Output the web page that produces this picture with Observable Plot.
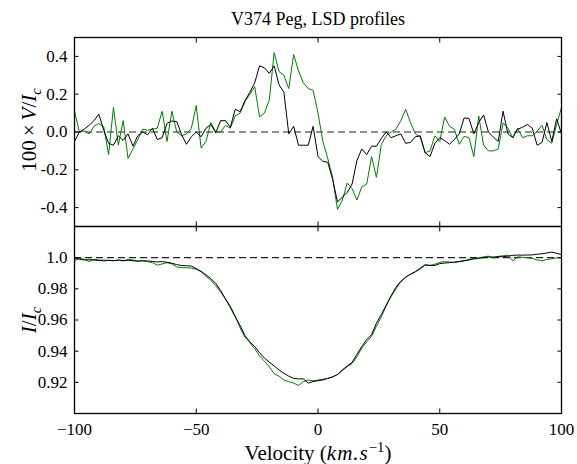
<!DOCTYPE html>
<html><head><meta charset="utf-8">
<script src="https://cdn.jsdelivr.net/npm/d3@7"></script>
<script src="https://cdn.jsdelivr.net/npm/@observablehq/plot@0.6"></script>
<style>
body{margin:0;background:#fff;}
#wrap{position:relative;width:577px;height:464px;font-family:"Liberation Serif",serif;color:#000;overflow:hidden;}
#wrap svg text{font-family:"Liberation Serif",serif !important;font-size:17px;}
.abs{position:absolute;white-space:nowrap;}
.lab{font-size:21px;line-height:22px;}
.op{padding:0 4px;}
.m{letter-spacing:1px;}
sub,sup{font-size:70%;line-height:0;}
#p1,#p2{position:absolute;left:0;}
#p1{top:0;} #p2{top:224px;}
</style></head><body>
<div id="wrap">
  <div id="p1"></div>
  <div id="p2"></div>
  <div class="abs" style="left:118px;width:400px;top:9px;text-align:center;font-size:18px;line-height:20px;">V374 Peg, LSD profiles</div>
  <div class="abs lab" style="left:29px;top:130px;transform:translate(-50%,-50%) rotate(-90deg);">100<span class="op">×</span><i>V</i>/<i>I</i><sub><i>c</i></sub></div>
  <div class="abs lab" style="left:29px;top:320px;transform:translate(-50%,-50%) rotate(-90deg);"><i>I</i>/<i>I</i><sub><i>c</i></sub></div>
  <div class="abs lab" style="left:118px;width:400px;top:442px;text-align:center;">Velocity (<i class="m">km.s</i><sup>−1</sup>)</div>
</div>
<script>
const vel = [
 -100,-98,-96,-94,-92,-90,-88,-86,-84,-82,
 -80,-78,-76,-74,-72,-70,-68,-66,-64,-62,
 -60,-58,-56,-54,-52,-50,-48,-46,-44,-42,
 -40,-38,-36,-34,-32,-30,-28,-26,-24,-22,
 -20,-18,-16,-14,-12,-10,-8,-6,-4,-2,
 0,2,4,6,8,10,12,14,16,18,
 20,22,24,26,28,30,32,34,36,38,
 40,42,44,46,48,50,52,54,56,58,
 60,62,64,66,68,70,72,74,76,78,
 80,82,84,86,88,90,92,94,96,98,
 100];
const vBlack = [
 -0.05,0.0,0.015,0.035,0.06,0.094,0.01,-0.06,-0.07,-0.02,
 -0.045,-0.01,-0.075,-0.02,0.0,-0.015,0.02,-0.04,-0.03,0.046,
 0.058,0.055,-0.015,-0.065,-0.025,0.0,-0.025,0.02,0.04,-0.005,
 0.06,0.06,0.025,0.12,0.108,0.165,0.21,0.26,0.35,0.34,
 0.31,0.35,0.25,0.21,-0.01,0.03,-0.07,-0.07,-0.07,0.03,
 -0.13,-0.155,-0.16,-0.25,-0.37,-0.345,-0.32,-0.275,-0.15,-0.09,
 -0.12,-0.075,-0.075,-0.034,0.0,-0.03,-0.02,-0.01,-0.06,-0.055,
 -0.025,-0.02,-0.11,-0.13,-0.06,-0.03,-0.045,-0.065,-0.04,-0.01,
 0.074,0.072,-0.01,0.05,0.09,0.0,-0.027,-0.05,0.11,-0.01,
 -0.03,0.015,0.025,0.04,0.02,-0.07,-0.055,0.05,-0.05,0.07,
 -0.01];
const vGreen = [
 0.11,0.0,0.005,-0.01,0.03,0.045,0.028,-0.12,0.13,-0.07,
 0.06,-0.14,-0.09,-0.04,0.015,0.01,0.015,0.02,0.11,-0.05,
 0.11,0.0,-0.02,-0.01,0.02,0.14,-0.085,-0.05,0.05,0.0,
 0.0,0.035,0.02,0.085,0.1,0.16,0.2,0.24,0.08,0.1,
 0.17,0.42,0.32,0.3,0.23,0.41,0.323,0.26,0.23,0.22,
 0.1,-0.05,-0.14,-0.24,-0.41,-0.36,-0.27,-0.3,-0.36,-0.29,
 -0.276,-0.13,-0.24,-0.066,-0.02,0.0,0.015,0.06,0.12,0.05,
 -0.01,-0.028,-0.11,-0.1,-0.02,-0.05,0.08,0.03,0.015,-0.065,
 -0.023,-0.03,-0.13,0.085,-0.07,-0.1,-0.1,-0.09,0.048,0.02,
 -0.03,0.02,-0.03,-0.02,-0.02,0.005,0.035,-0.04,-0.06,0.04,
 0.13];
const iBlack = [
 0.9996,0.999,0.9985,0.9987,0.9985,0.9982,0.9984,0.9983,0.9981,0.9984,
 0.9982,0.9983,0.998,0.9978,0.998,0.9979,0.9976,0.9972,0.9975,0.997,
 0.9965,0.9955,0.995,0.9948,0.9946,0.993,0.9912,0.989,0.9865,0.9835,
 0.979,0.9735,0.968,0.962,0.9565,0.95,0.946,0.943,0.939,0.9355,
 0.933,0.9305,0.928,0.9258,0.924,0.9225,0.9222,0.9222,0.9195,0.9205,
 0.921,0.9215,0.9225,0.9235,0.925,0.928,0.9305,0.9328,0.938,0.943,
 0.9475,0.9505,0.958,0.9635,0.9695,0.9755,0.981,0.9848,0.9875,0.9893,
 0.991,0.9928,0.9953,0.995,0.995,0.9962,0.9965,0.9968,0.9972,0.9976,
 0.998,0.9985,0.9992,0.9996,1.0,1.0004,1.0004,1.0006,1.0006,1.001,
 1.0015,1.0017,1.0016,1.0017,1.0018,1.0022,1.0025,1.003,1.0036,1.0028,
 1.002];
const iGreen = [
 0.998,0.9995,0.999,0.9975,0.999,0.9985,0.9978,0.9983,0.998,0.9985,
 0.9978,0.999,0.9985,0.9978,0.998,0.9975,0.9968,0.9952,0.996,0.9968,
 0.996,0.994,0.9936,0.9935,0.9933,0.9925,0.991,0.988,0.9855,0.982,
 0.978,0.9735,0.969,0.9625,0.955,0.949,0.9455,0.9415,0.937,0.9335,
 0.93,0.9255,0.924,0.9214,0.9205,0.9195,0.918,0.9205,0.9215,0.921,
 0.9215,0.922,0.9225,0.9235,0.925,0.9275,0.93,0.932,0.9365,0.942,
 0.946,0.9495,0.956,0.962,0.969,0.975,0.98,0.9845,0.9875,0.9895,
 0.991,0.9935,0.9955,0.995,0.9958,0.997,0.9975,0.9972,0.9968,0.9975,
 0.998,0.999,0.9995,0.9998,1.0005,1.001,0.9998,1.0008,1.0012,1.0017,
 0.998,1.0005,1.0002,1.0,0.9995,0.9985,0.998,0.9988,0.9993,0.9998,
 1.0];
const xTicks = [-100,-50,0,50,100];
const vTicks = [-0.4,-0.2,0,0.2,0.4];
const iTicks = [0.92,0.94,0.96,0.98,1.0];

const rows = ys => vel.map((v,i) => ({v, y: ys[i]}));
const plotStyle = {background:"transparent", fontFamily:"Liberation Serif, serif", fontSize:"17px", color:"black", overflow:"visible"};
const tk = 4.5;
const blank = () => "";
const dashed = {stroke:"#222", strokeDasharray:"7,4", strokeWidth:1.2};
const common = (ticksY) => [
  Plot.axisY(ticksY, {anchor:"left", tickSize:-tk, tickFormat:blank, label:null}),
  Plot.axisY(ticksY, {anchor:"right", tickSize:-tk, tickFormat:blank, label:null}),
  Plot.axisX(xTicks, {anchor:"bottom", tickSize:-tk, tickFormat:blank, label:null}),
  Plot.axisX(xTicks, {anchor:"top", tickSize:-tk, tickFormat:blank, label:null}),
  Plot.frame({stroke:"black", strokeWidth:1.3})
];

const plotV = Plot.plot({
  width:577, height:228, marginTop:37, marginBottom:2, marginLeft:74, marginRight:16,
  style: plotStyle,
  x:{domain:[-100,100]},
  y:{domain:[-0.5,0.5]},
  marks:[
    Plot.ruleY([0], dashed),
    Plot.line(rows(vGreen), {x:"v", y:"y", stroke:"#008000", strokeWidth:1}),
    Plot.line(rows(vBlack), {x:"v", y:"y", stroke:"black", strokeWidth:1}),
    Plot.axisY(vTicks, {anchor:"left", tickSize:0, tickPadding:7, tickFormat:d => d.toFixed(1), label:null}),
    ...common(vTicks)
  ]
});
document.getElementById("p1").appendChild(plotV);

const plotI = Plot.plot({
  width:577, height:240, marginTop:2, marginBottom:51, marginLeft:74, marginRight:16,
  style: plotStyle,
  x:{domain:[-100,100]},
  y:{domain:[0.9,1.02]},
  marks:[
    Plot.ruleY([1], dashed),
    Plot.line(rows(iGreen), {x:"v", y:"y", stroke:"#008000", strokeWidth:1}),
    Plot.line(rows(iBlack), {x:"v", y:"y", stroke:"black", strokeWidth:1}),
    Plot.axisY(iTicks, {anchor:"left", tickSize:0, tickPadding:7, tickFormat:d => d === 1 ? "1.0" : d.toFixed(2), label:null}),
    Plot.axisX(xTicks, {anchor:"bottom", tickSize:0, tickPadding:9, tickFormat:d => d < 0 ? "\u2212" + Math.abs(d) : String(d), label:null}),
    ...common(iTicks)
  ]
});
document.getElementById("p2").appendChild(plotI);
</script>
</body></html>
